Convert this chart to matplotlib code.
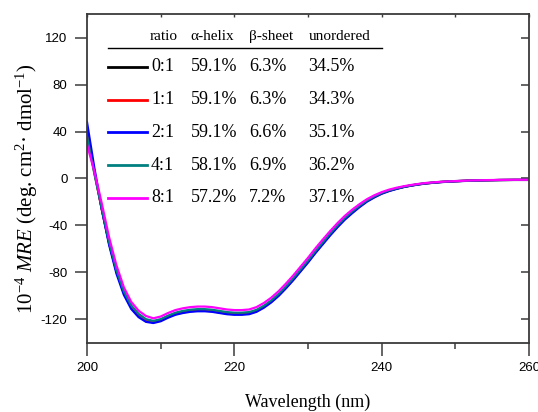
import matplotlib
matplotlib.use("Agg")
import matplotlib.pyplot as plt
import numpy as np

# wavelength grid (nm)
wavelength = list(range(200, 247)) + [248, 250, 252, 254, 256, 258, 260]

# mean residue ellipticity (x 10^-4)
mre_0_1 = [40, 6, -26, -55, -79, -97, -109, -116, -120.5, -122,
           -120.5, -117.5, -115, -113.5, -112.5, -112, -112, -112.5, -113.5, -114.5,
           -115, -115, -114.5, -112.5, -109, -104.5, -99, -92.5, -85.5, -78,
           -70.5, -62.5, -55, -47.5, -40.5, -34, -28.5, -23.5, -19, -15.5,
           -12.5, -10.3, -8.6, -7.1, -5.9, -4.9, -4.1,
           -3.0, -2.3, -1.8, -1.5, -1.3, -1.2, -1.2]
mre_1_1 = [38, 5, -26, -55, -79, -97, -109.5, -116.5, -121, -122.5,
           -121, -118, -115.5, -114, -113, -112.5, -112.5, -113, -114, -115,
           -115.5, -115.5, -115, -113, -109.5, -105, -99.5, -93, -86, -78.5,
           -71, -63, -55.5, -48, -41, -34.5, -29, -24, -19.3, -15.8,
           -12.7, -10.5, -8.7, -7.2, -6.0, -5.0, -4.2,
           -3.0, -2.3, -1.8, -1.5, -1.3, -1.2, -1.2]
mre_2_1 = [48, 9, -26, -56.5, -81, -99, -111, -118, -122, -123,
           -121.5, -118.5, -116, -114.5, -113.5, -113, -113, -113.5, -114.5, -115.5,
           -116, -116, -115.5, -113.5, -110, -105.5, -100, -93.5, -86.5, -79,
           -71.5, -63.5, -56, -48.5, -41.5, -35, -29.5, -24.3, -19.7, -16.1,
           -13, -10.7, -8.9, -7.3, -6.1, -5.1, -4.2,
           -3.1, -2.4, -1.9, -1.5, -1.3, -1.2, -1.2]
mre_4_1 = [36, 4, -25, -54, -78, -96, -108, -115.2, -119.7, -121.2,
           -119.7, -116.7, -114.2, -112.7, -111.7, -111.2, -111.2, -111.7, -112.7, -113.7,
           -114.2, -114.2, -113.7, -111.8, -108.3, -103.8, -98.3, -91.8, -84.8, -77.3,
           -69.8, -61.8, -54.3, -46.8, -39.9, -33.5, -28, -23.1, -18.7, -15.2,
           -12.3, -10.1, -8.4, -7.0, -5.8, -4.8, -4.0,
           -2.9, -2.2, -1.8, -1.5, -1.3, -1.2, -1.2]
mre_8_1 = [29, 6, -21, -50, -74, -92.5, -105, -112.5, -117, -119,
           -117.5, -114.5, -112, -110.5, -109.5, -109, -109, -109.5, -110.5, -111.5,
           -112, -112, -111.5, -109.5, -106, -101.5, -96, -89.5, -82.5, -75,
           -67.5, -59.5, -52, -44.8, -38, -31.8, -26.5, -21.8, -17.6, -14.3,
           -11.6, -9.5, -7.9, -6.6, -5.5, -4.6, -3.8,
           -2.8, -2.2, -1.7, -1.4, -1.2, -1.1, -1.1]

ratios = ["0:1", "1:1", "2:1", "4:1", "8:1"]
helix = ["59.1%", "59.1%", "59.1%", "58.1%", "57.2%"]
sheet = ["6.3%", "6.3%", "6.6%", "6.9%", "7.2%"]
unordered = ["34.5%", "34.3%", "35.1%", "36.2%", "37.1%"]
colors = ["black", "#ff0000", "#0000ff", "#008080", "#ff00ff"]
series = [mre_0_1, mre_1_1, mre_2_1, mre_4_1, mre_8_1]

plt.rcParams["mathtext.fontset"] = "custom"
plt.rcParams["mathtext.rm"] = "Liberation Serif"
plt.rcParams["mathtext.it"] = "Liberation Serif:italic"
plt.rcParams["axes.unicode_minus"] = False  # tick labels use plain hyphens

fig = plt.figure(figsize=(5.38, 4.12), dpi=100)
ax = fig.add_axes([0.1617, 0.1675, 0.8216, 0.7985])

# spectra, magenta drawn last so it sits on top
for y, c in zip(series, colors):
    ax.plot(wavelength, y, color=c, lw=1.6, solid_joinstyle="round")

ax.set_xlim(200, 260)
ax.set_ylim(-140, 140)
ax.set_xticks([200, 220, 240, 260])
ax.set_xticks([210, 230, 250], minor=True)
ax.set_yticks([-120, -80, -40, 0, 40, 80, 120])

spine_col = "#3a3a3a"
for s in ax.spines.values():
    s.set_color(spine_col)
    s.set_linewidth(1.3)

ax.tick_params(which="major", direction="out", length=9, width=1.1, color=spine_col,
               labelsize=9.5, pad=5)
ax.tick_params(which="minor", direction="out", length=4.5, width=1.1, color=spine_col)
for lab in ax.get_xticklabels() + ax.get_yticklabels():
    lab.set_fontfamily("Liberation Sans")

# inward ticks on top and right
top = ax.secondary_xaxis("top")
top.set_xticks(np.arange(200, 261, 10))
top.tick_params(direction="in", length=2.5, width=1, color=spine_col, labeltop=False)
top.spines["top"].set_visible(False)
right = ax.secondary_yaxis("right")
right.set_yticks([-120, -80, -40, 0, 40, 80, 120])
right.tick_params(direction="in", length=6, width=1.1, color=spine_col, labelright=False)
right.spines["right"].set_visible(False)

ax.set_xlabel("Wavelength (nm)", fontfamily="Liberation Serif", fontsize=13, labelpad=14)
ax.set_ylabel("10$^{\u22124}$ $MRE$ (deg. cm$^{2}$· dmol$^{\u22121}$)",
              fontfamily="Liberation Serif", fontsize=15)
ax.yaxis.set_label_coords(-0.107, 0.468)

# table-like legend
serif = "Liberation Serif"
hy = 0.931
ax.text(0.1425, hy, "ratio", transform=ax.transAxes, fontsize=11, family=serif, va="center")
ax.text(0.235, hy, "α-helix", transform=ax.transAxes, fontsize=11, family=serif, va="center")
ax.text(0.367, hy, "β-sheet", transform=ax.transAxes, fontsize=11, family=serif, va="center")
ax.text(0.501, hy, "unordered", transform=ax.transAxes, fontsize=11, family=serif, va="center")
ax.plot([0.0475, 0.667], [0.896, 0.896], transform=ax.transAxes, color="black", lw=1)

row_y = [0.840, 0.739, 0.641, 0.540, 0.441]
for i in range(len(ratios)):
    yy = row_y[i]
    ax.plot([0.0475, 0.135], [yy, yy], transform=ax.transAxes, color=colors[i], lw=2)
    ax.text(0.145, yy, ratios[i], transform=ax.transAxes, fontsize=13, family=serif, va="center")
    ax.text(0.235, yy, helix[i], transform=ax.transAxes, fontsize=13, family=serif, va="center")
    ax.text(0.367, yy, sheet[i], transform=ax.transAxes, fontsize=13, family=serif, va="center")
    ax.text(0.501, yy, unordered[i], transform=ax.transAxes, fontsize=13, family=serif, va="center")

plt.savefig("out.png", dpi=100)
